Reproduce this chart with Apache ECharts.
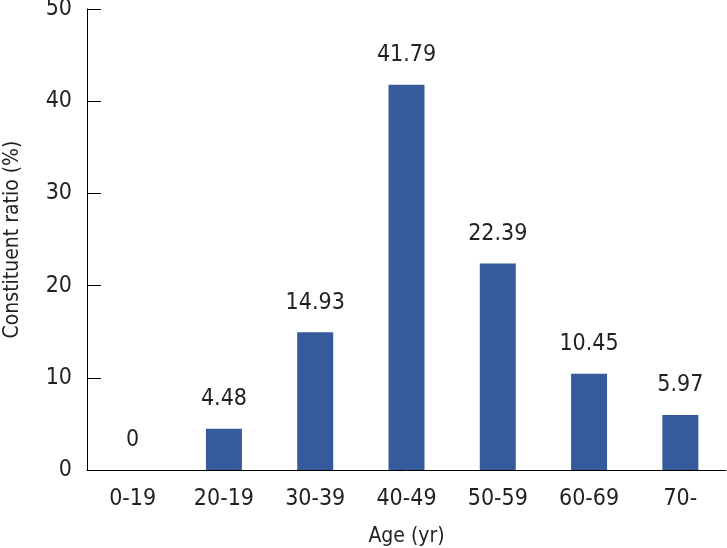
<!DOCTYPE html>
<html>
<head>
<meta charset="utf-8">
<script src="https://cdn.jsdelivr.net/npm/echarts@6/dist/echarts.min.js"></script>
<style>
  html, body { margin: 0; padding: 0; background: #fff; }
  #chart { width: 727px; height: 548px; }
</style>
</head>
<body>
<div id="chart"></div>
<script>
// age groups and constituent ratio (%)
const ageGroups = ['0-19', '20-19', '30-39', '40-49', '50-59', '60-69', '70-']
const ratios = [0, 4.48, 14.93, 41.79, 22.39, 10.45, 5.97]
const ratioLabels = ['0', '4.48', '14.93', '41.79', '22.39', '10.45', '5.97']

const font = "'DejaVu Sans Condensed', sans-serif"
const textColor = '#231f20'

const chart = echarts.init(document.getElementById('chart'))
chart.setOption({
  animation: false,
  backgroundColor: '#fff',
  grid: {
    left: 87,
    right: 1,
    top: 9,
    bottom: 78,
    outerBoundsMode: 'none',
    containLabel: false,
  },
  xAxis: {
    type: 'category',
    data: ageGroups,
    name: 'Age (yr)',
    nameLocation: 'middle',
    nameGap: 56,
    nameTextStyle: { fontFamily: font, fontSize: 21, color: textColor },
    axisLine: { lineStyle: { color: '#000', width: 1 } },
    axisTick: { inside: true, length: 14, lineStyle: { color: '#000' } },
    axisLabel: { fontFamily: font, fontSize: 23, color: textColor, margin: 18 },
  },
  yAxis: {
    type: 'value',
    min: 0,
    max: 50,
    interval: 10,
    name: 'Constituent ratio (%)',
    nameLocation: 'middle',
    nameGap: 64,
    nameTextStyle: { fontFamily: font, fontSize: 21, color: textColor },
    axisLine: { show: true, lineStyle: { color: '#000', width: 1 } },
    axisTick: { show: true, inside: true, length: 14, lineStyle: { color: '#000' } },
    axisLabel: { fontFamily: font, fontSize: 23, color: textColor, margin: 15 },
    splitLine: { show: false },
  },
  series: [{
    type: 'bar',
    data: ratios,
    barWidth: 36,
    itemStyle: { color: '#365a9b' },
    label: {
      show: true,
      position: 'top',
      distance: 18,
      fontFamily: font,
      fontSize: 23,
      color: textColor,
      formatter: (p) => ratioLabels[p.dataIndex],
    },
  }],
})
</script>
</body>
</html>
